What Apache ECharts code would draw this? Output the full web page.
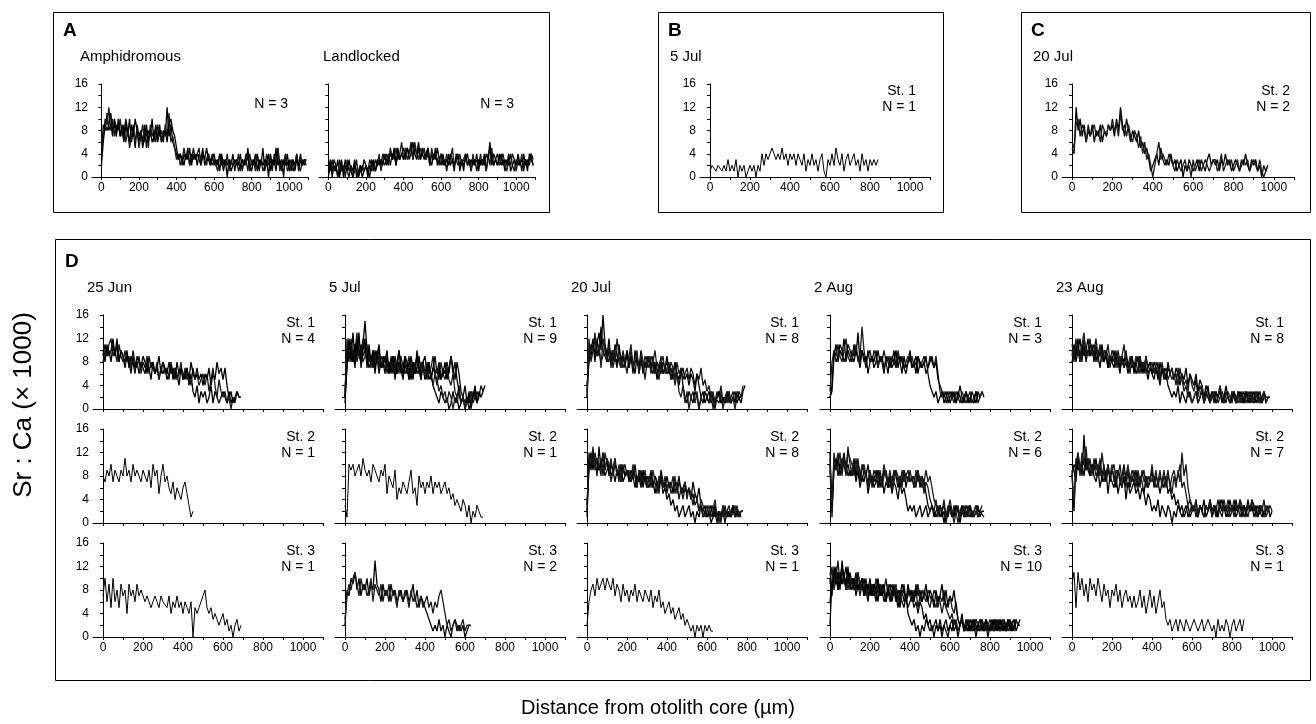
<!DOCTYPE html>
<html>
<head>
<meta charset="utf-8">
<script src="https://cdn.jsdelivr.net/npm/echarts@6/dist/echarts.min.js"></script>
<style>
  html, body { margin: 0; padding: 0; background: #fff; }
  #main { width: 1316px; height: 724px; }
</style>
</head>
<body>
<div id="main"></div>
<script>
// Sr:Ca profiles, values read every 10 um from the otolith core
var STEP = 10;

// A - Amphidromous (N = 3)
var amph1 = [3,9,8,11,8,9,7,10,8,9,7, 8,6,9,7,10,6,8,5,9,7, 8,6,9,5,8,7,10,6,8,7, 9,6,8,7,12,7,9,6,5,4,
  3,4,2,4,3,5,2,4,3,4, 2,4,3,5,2,3,4,2,3,4, 2,3,1,4,2,3,0,3,2,4, 1,3,2,4,1,3,2,5,1,3, 2,4,1,3,2,5,1,3,0,4,
  2,3,1,5,2,3,0,4,2,3, 1,3,2,4,1,3,2,3,2];
var amph2 = [5,7,10,9,12,8,10,7,9,8,10, 7,9,6,8,5,7,9,6,8,5, 7,9,6,8,5,9,7,8,6,9, 7,8,6,9,7,11,6,7,5,3,
  4,2,3,5,3,4,2,3,5,3, 3,5,2,4,3,2,4,3,2,3, 3,1,4,2,3,2,4,1,3,2, 3,2,4,1,3,2,3,1,4,2, 3,1,4,2,3,1,2,4,2,3,
  1,4,2,5,1,3,2,4,1,2, 3,1,2,4,2,1,3,2,3];
var amph3 = [2,6,9,8,9,11,8,9,7,10,7, 9,7,10,8,6,9,7,10,8,6, 8,5,7,9,6,8,6,7,9,6, 8,6,7,8,6,9,10,8,7,5,
  3,4,3,2,4,3,5,2,4,3, 4,3,2,4,3,5,3,2,4,2, 3,2,4,3,1,3,2,3,1,2, 2,3,1,2,3,2,4,3,2,1, 3,2,4,1,3,2,3,2,4,1,
  3,2,5,2,3,1,3,2,4,1, 2,3,1,3,2,4,2,3,3];

// A - Landlocked (N = 3)
var land1 = [1,3,0,2,1,3,0,2,1,3,1, 0,2,1,3,0,1,2,0,1,2, 0,2,1,3,1,2,3,2,4,3, 4,2,5,3,4,2,5,3,4,5,
  3,5,4,6,3,5,4,6,3,5, 4,3,5,2,4,3,5,2,3,4, 2,3,1,4,2,3,1,4,3,2, 3,1,4,2,3,1,3,2,4,1, 3,2,4,1,3,6,2,4,3,2,
  4,2,3,1,3,2,4,2,1,3, 2,3,1,4,2,3,2,4,3];
var land2 = [2,1,3,1,2,0,3,1,2,0,3, 1,2,0,1,3,0,1,2,1,2, 1,3,2,1,3,2,4,1,3,2, 3,4,2,4,3,5,3,4,6,3,
  5,3,4,5,3,6,4,3,5,4, 5,3,4,2,5,3,4,3,2,4, 3,2,4,2,3,5,2,3,2,4, 2,3,4,2,3,1,4,2,3,2, 4,2,3,1,4,2,5,2,3,4,
  2,3,4,2,1,3,2,4,3,1, 3,2,4,1,3,2,3,4,2];
var land3 = [0,2,1,3,2,0,1,3,0,2,1, 3,1,0,2,1,0,2,1,3,2, 2,0,3,2,1,3,2,3,2,4, 2,3,4,3,5,2,4,3,4,3,
  4,5,3,4,6,4,3,5,3,4, 3,4,5,3,2,4,3,5,3,2, 4,2,3,2,4,3,2,3,4,1, 3,2,3,4,2,3,2,3,1,3, 2,3,2,4,3,5,3,2,3,2,
  3,4,2,3,2,4,1,2,3,2, 4,2,3,2,3,1,4,3,2];

// B - 5 Jul, St. 1
var bJul5 = [1,2,2,1,2,2,1,2,1,3,1, 2,1,3,0,2,1,2,0,1,2, 1,2,0,2,1,4,2,4,3,4, 5,4,3,4,3,5,3,4,2,4,
  3,4,2,4,3,2,4,1,3,2, 4,2,3,1,3,4,1,0,3,2, 4,2,5,3,2,4,1,3,4,2, 3,4,2,3,1,4,2,3,1,3, 2,3,2,3];

// C - 20 Jul, St. 2
var cJul20a = [5,4,12,8,10,7,9,6,8,7,9, 6,8,7,9,6,8,7,9,8,9, 7,10,8,12,9,7,10,8,6,8, 7,6,8,5,6,4,5,3,1,2,
  3,4,2,5,3,2,3,2,4,2, 3,1,2,3,0,2,1,3,2,1, 2,3,1,3,2,1,3,4,2,3, 2,3,1,3,2,4,2,3,1,2, 3,2,1,3,2,4,2,1,3,2,
  3,1,2,0,2,1,2];
var cJul20b = [6,5,9,10,7,9,8,6,9,7,8, 9,7,8,6,9,8,7,9,8,10, 8,9,7,11,8,9,7,9,7,6, 8,7,5,7,4,6,3,4,2,0,
  2,4,6,3,4,3,2,4,3,2, 1,3,2,1,2,3,1,2,0,3, 1,2,3,1,2,3,2,1,2,3, 3,1,2,4,1,2,3,2,3,1, 2,3,1,2,3,2,3,1,2,3,
  2,1,3,1,0,1,2];

// D - 25 Jun
var jun25s1a = [9,11,9,10,8,11,9,12,8,10,9, 7,9,8,6,9,7,8,6,8,7, 6,8,7,5,8,6,7,5,7,6, 7,5,6,8,5,7,6,4,7,6,
  5,7,4,6,3,2,4,1,3,2, 3,1,2,4,1,3,2,1,2,3, 2,1,3,1,2];
var jun25s1b = [8,10,9,11,12,9,10,8,11,9,8, 10,8,9,7,10,8,7,9,6,8, 7,9,6,8,7,6,8,5,7,8, 6,7,5,8,6,7,5,6,8,5,
  7,5,6,4,7,5,6,4,5,6, 4,6,3,5,7,4,2,5,3,2, 3,1,2,0,2,1,3,2,2];
var jun25s1c = [10,8,11,9,10,12,9,11,8,10,9, 8,10,7,9,8,6,9,8,7,9, 8,6,9,7,8,6,7,9,6,8, 7,6,8,6,7,5,8,6,7,5,
  6,7,5,8,6,5,7,5,6,4, 6,5,7,4,6,5,8,6,7,5, 7,4,2,3,1,2,3,2];
var jun25s2 = [8,7,9,8,10,7,9,8,7,9,8, 11,8,9,7,10,8,9,8,7,9, 8,7,9,6,10,8,9,5,8,10, 7,8,6,5,7,4,6,5,4,6,
  7,5,3,1,2];
var jun25s3 = [7,10,6,9,5,10,6,8,5,9,7, 8,4,9,7,8,6,9,7,8,7, 6,7,6,5,6,7,6,5,7,6, 6,5,7,4,6,5,7,5,6,4,
  6,5,4,6,0,5,4,5,6,7, 8,5,4,5,3,4,3,2,3,4, 2,3,1,2,0,2,3,1,2];

// D - 5 Jul
var jul5s1a = [2,9,11,8,10,7,12,9,8,11,15, 10,8,9,7,10,8,9,7,8,6, 9,7,8,6,9,7,8,6,7,9, 6,8,7,5,8,6,7,5,8,6,
  7,5,6,4,3,2,1,3,2,1, 2,0,1,3,1,2,0,1,2,1, 2,1,3,2,3];
var jul5s1b = [3,10,8,12,9,11,8,10,9,12,10, 8,10,7,9,8,10,7,9,8,7, 8,6,9,7,8,6,10,7,8,6, 7,9,6,8,7,9,6,7,8,6,
  8,6,7,9,6,7,5,8,6,5, 7,5,4,6,3,2,4,1,2,0, 2,1,3,1,2,3,2,4,3];
var jul5s1c = [1,8,10,9,13,8,10,9,11,9,10, 9,7,8,10,7,9,6,8,7,9, 7,8,6,9,7,6,8,7,5,8, 6,7,5,8,6,7,9,6,7,5,
  6,8,5,7,6,4,7,5,6,8, 5,7,9,6,8,5,3,1,2,1, 2,0,1,2,3,2];
var jul5s1d = [2,12,9,11,8,10,13,9,10,8,9, 11,8,9,7,9,8,10,7,8,9, 6,8,7,9,7,8,6,9,7,8, 7,5,8,6,7,9,6,8,7,6,
  5,7,6,4,6,5,3,4,2,3, 1,3,2,0,2,1,3,1,2,0, 1,2,1,3,2,1,2];
var jul5s1e = [2,7,12,10,8,11,9,13,7,10,12, 7,11,8,10,6,9,11,7,9,8, 10,6,8,9,5,8,10,7,6,9, 8,5,9,7,6,10,7,5,8,9,
  6,8,5,7,9,6,8,5,7,6, 8,6,9,7,5,8,6,3,2,4, 1,3,0,2,4,1,3,2,3,4];
var jul5s2 = [3,1,10,9,10,8,9,10,8,11,9, 8,9,7,10,9,8,7,9,8,10, 5,8,7,6,9,4,6,5,7,6, 5,7,9,5,6,3,8,6,7,5,
  7,6,8,5,7,6,7,5,6,7, 5,6,4,5,3,4,3,2,4,3, 1,3,0,2,1,3,2,1,1];
var jul5s3a = [2,8,7,10,9,11,8,10,7,9,8, 10,7,9,8,13,9,8,6,9,7, 8,6,9,7,8,6,7,8,6,7, 8,6,7,9,6,8,5,7,6,5,
  5,3,2,1,2,1,3,1,2,0, 2,1,0,2,3,1,2,1,2,0, 1,2,2];
var jul5s3b = [3,7,9,8,10,11,9,7,10,8,9, 7,8,10,6,9,8,7,9,6,8, 7,9,6,8,7,5,8,7,6,8, 7,5,8,6,7,5,6,7,5,6,
  7,5,6,4,6,5,7,8,6,4, 2,3,1,2,3,2,1,2,3,1, 2,2];

// D - 20 Jul
var jul20s1a = [3,10,9,11,8,12,9,14,10,9,8, 10,9,8,11,9,8,7,9,8,10, 7,9,8,6,9,7,10,8,7,9, 8,7,9,6,8,7,6,8,7,6,
  7,5,6,8,6,5,7,4,2,1, 3,2,1,3,2,0,2,1,3,2, 1,3,2,1,2,3,1,2,1,3, 2,1,2,3,1,2,1,3,4];
var jul20s1b = [2,9,11,10,12,9,10,8,9,11,9, 8,10,7,9,8,10,9,7,8,9, 8,10,7,8,9,6,8,7,9,8, 7,9,8,6,8,7,9,6,7,8,
  6,8,7,5,8,6,7,5,6,7, 5,7,6,4,6,5,7,4,5,3, 4,2,3,1,3,2,4,1,2,3, 1,2,3,1,2,3,2,4];
var jul20s1c = [4,8,10,12,9,11,13,10,16,11,9, 12,8,10,9,7,11,8,9,7,10, 7,9,6,10,8,7,9,6,8,7, 9,7,6,8,5,7,8,6,7,9,
  6,7,5,8,6,4,6,7,5,6, 4,6,5,3,6,4,2,3,1,2, 3,1,2,0,2,3,1,2,1,2, 3,1,2,1,3,2,2];
var jul20s1d = [2,12,8,10,13,9,11,7,12,10,8, 11,7,10,8,12,9,7,10,8,6, 9,11,7,8,10,6,9,8,5,8, 9,6,8,10,7,5,8,9,6,7,
  8,5,7,4,6,3,2,4,1,3, 0,2,3,1,3,0,2,1,3,2, 1,3,0,2,2,1,3,0,2,1, 3,1,2,0,2,3];
var jul20s2a = [2,10,12,9,11,8,13,9,10,8,9, 10,8,9,7,9,8,10,7,8,9, 7,9,8,6,8,7,9,6,8,7, 6,8,7,5,7,6,8,5,6,4,
  5,3,4,2,3,1,2,3,1,2, 3,1,2,0,2,1,3,1,2,1, 2,0,1,3,1,2,1,2,0,2, 1,2,3,1,2,1,2,2];
var jul20s2b = [3,9,11,10,12,10,9,11,8,12,10, 9,11,8,10,9,7,10,9,8,9, 8,7,9,8,6,9,7,8,7,6, 8,7,6,8,7,5,8,6,7,6,
  7,5,6,8,5,7,6,4,6,5, 6,4,5,3,4,2,3,1,2,3, 1,2,3,1,2,0,2,1,3,1, 2,1,2,3,1,2,1];
var jul20s2c = [1,11,9,12,10,11,9,10,12,9,11, 8,10,9,11,8,9,7,10,8,9, 9,7,8,10,7,8,6,9,7,8, 7,9,6,8,7,6,9,7,6,8,
  6,7,5,7,6,8,5,6,7,5, 6,4,7,5,4,6,3,2,3,1, 2,3,1,2,0,2,1,3,2,1, 2,1,3,1,2,2];
var jul20s2d = [3,12,10,13,9,11,10,8,12,9,11, 10,7,9,11,8,10,7,9,10,8, 9,7,10,8,6,9,8,7,9,6, 8,6,9,7,5,8,7,6,8,5,
  7,6,8,5,7,4,6,5,7,4, 6,5,3,5,4,2,4,3,1,2, 3,1,2,4,1,2,0,3,1,2, 3,1,2,1,3,1,2,2];
var jul20s3 = [2,6,8,9,7,10,8,9,10,8,10, 9,8,10,7,9,8,6,9,7,8, 6,8,7,9,6,8,7,6,8,7, 6,8,5,7,6,8,5,6,4,5,
  6,4,5,3,4,5,3,4,2,3, 2,1,2,0,2,1,2,0,2,1, 2,1,1];

// D - 2 Aug
var aug2s1a = [2,3,9,11,8,10,9,12,8,10,9, 8,11,9,13,8,10,9,7,10,8, 9,8,10,7,9,8,6,9,8,7, 8,10,7,9,8,6,9,7,8,10,
  7,8,9,6,8,7,8,9,6,4, 3,2,3,1,2,3,1,2,3,1, 2,3,1,2,4,2,1,3,2,1, 3,2,1,3,2,3,2];
var aug2s1b = [3,8,10,9,11,9,8,10,12,9,8, 10,9,11,8,9,14,10,8,9,10, 8,10,9,7,9,8,10,8,9,7, 9,8,7,10,8,9,7,8,9,8,
  9,7,8,9,7,8,9,8,7,9, 8,7,9,6,3,2,3,1,2,3, 2,1,3,2,1,3,2,1,2,3, 1,2,3,1,2,3];
var aug2s1c = [2,4,10,8,9,11,10,8,9,11,10, 9,8,10,9,7,10,8,9,6,8, 9,7,8,10,8,9,7,8,6,9, 7,8,10,7,9,8,7,6,8,9,
  7,8,6,9,8,7,8,6,7,8, 9,7,8,5,4,3,2,3,1,2, 3,2,1,3,2,1,2,3,1,2, 2,1,3,2];
var aug2s2a = [12,1,10,9,11,8,10,12,9,10,8, 9,11,8,10,9,7,9,8,10,7, 8,7,9,6,8,7,9,8,6,8, 7,9,8,6,8,7,9,6,8,7,
  8,6,7,9,6,8,7,5,3,2, 3,1,2,3,1,2,0,2,1,3, 2,1,3,2,0,2,1,3,2,1, 2,1,2,3,1,2,2];
var aug2s2b = [9,2,11,10,12,9,11,10,8,12,11, 10,8,11,9,7,10,9,8,7,9, 6,8,7,9,8,6,8,9,7,6, 8,7,9,8,6,9,7,8,9,7,
  8,6,9,7,8,6,7,9,7,8, 6,4,3,2,3,2,4,1,3,2, 1,3,2,0,2,3,1,2,1,3, 2,1,2,1,2,3];
var aug2s2c = [10,3,9,11,8,10,9,11,10,8,9, 8,10,7,9,6,8,7,9,5,7, 8,6,7,9,6,8,5,7,6,8, 5,7,6,4,7,5,6,4,2,3,
  2,3,1,2,3,1,2,3,1,2, 3,2,1,2,3,1,2,0,2,3, 1,2,3,2,1,3,2,1,2,3, 1,2,3,2,2];
var aug2s2d = [11,2,12,9,10,12,8,11,9,13,10, 8,10,9,11,7,9,10,8,6,9, 7,9,8,6,9,7,10,8,7,9, 6,8,9,7,8,6,9,8,7,9,
  7,8,6,9,7,8,5,7,6,4, 3,2,4,1,3,2,3,1,2,4, 2,0,2,3,1,2,3,1,3,2, 1,2,3,1,2,2,1];
var aug2s3a = [2,10,9,12,8,11,9,10,12,9,11, 9,10,8,11,9,8,10,8,9,7, 9,7,8,6,9,7,8,6,8,7, 6,8,7,5,7,6,5,7,4,3,
  2,3,1,2,0,2,1,3,2,1, 2,0,2,1,3,1,2,1,0,2, 1,3,2,1,2,3,1,2,1,3, 2,1,3,2,1,2,1,3,2,1, 2,3,1,2,3,1,2,1,3,2,
  1,2,3,2,3];
var aug2s3b = [11,8,10,9,11,10,12,9,10,8,10, 9,8,10,9,7,9,8,10,7,8, 8,9,7,8,9,7,8,10,7,8, 9,7,8,6,8,7,9,6,8,7,
  6,8,7,9,6,8,7,6,8,7, 6,8,7,5,7,6,8,5,6,7, 5,4,6,3,2,3,1,2,3,1, 2,3,1,2,3,2,1,3,2,1, 2,1,3,2,1,3,2,1,2,3,
  2,1,3,2];
var aug2s3c = [6,9,11,10,8,10,9,11,8,10,9, 8,10,7,9,8,9,7,8,6,9, 7,8,6,9,7,8,6,7,8,6, 7,8,6,7,5,8,6,7,5,6,
  7,5,6,4,6,5,3,4,2,3, 1,2,3,1,2,0,2,3,1,2, 3,1,2,0,2,3,1,2,1,2, 1,3,2,1,2,3,1,2,0,2, 3,1,2,3,1,2,3,1,2,3,
  1,2,2];
var aug2s3d = [9,12,8,10,13,9,11,10,8,11,9, 10,8,9,11,8,10,9,7,9,8, 9,7,10,8,7,9,8,6,9,7, 8,7,9,6,8,7,8,6,7,8,
  7,6,8,5,7,6,8,7,6,5, 7,6,5,7,6,4,6,5,4,3, 4,2,3,1,2,3,2,1,3,2, 1,2,3,2,1,3,2,1,2,3, 2,1,3,2,1,2,3,2,1,2,
  2,3];
var aug2s3e = [10,7,12,9,11,8,13,10,9,12,8, 10,9,11,8,9,10,7,9,8,10, 7,9,8,10,7,8,9,6,8,9, 7,9,6,8,7,9,8,6,9,7,
  8,6,9,7,8,6,7,9,6,8, 7,5,8,6,7,9,6,8,5,7, 6,8,5,3,2,4,1,3,2,1, 3,2,0,2,3,1,2,3,1,2, 1,3,2,1,3,2,1,2,3,1,
  2,3,1,2,2];

// D - 23 Aug
var aug23s1a = [9,11,8,10,12,9,11,8,10,9,11, 8,10,9,7,10,8,9,7,9,8, 7,9,8,6,9,7,8,6,8,7, 8,6,7,9,6,8,7,5,7,6,
  5,7,6,4,7,5,6,4,3,2, 3,2,4,1,3,2,1,3,2,1, 2,3,1,2,3,1,2,4,1,2, 3,1,2,3,1,2,4,2,1,3, 2,1,3,2,1,2,3,1,2,3,
  1,2,3,1,2,3,1,2,2];
var aug23s1b = [10,8,11,9,10,8,12,10,9,11,10, 9,11,8,10,9,8,10,9,7,9, 8,10,7,9,8,7,9,8,6,9, 7,8,6,9,7,8,6,7,8,6,
  7,6,8,5,7,6,5,7,6,5, 6,4,7,5,6,4,5,3,6,4, 3,5,2,4,3,1,3,2,1,3, 2,3,1,2,3,2,1,3,2,1, 3,2,1,2,3,1,2,3,2,1,
  2,3,1,2,1,3,2,2];
var aug23s1c = [8,10,9,12,8,11,9,10,12,9,10, 11,8,10,9,11,8,10,7,9,8, 10,8,9,7,9,8,10,7,8,9, 6,8,9,7,8,6,9,7,8,6,
  8,7,5,8,6,7,5,8,6,7, 5,7,6,4,6,5,7,4,6,5, 4,6,3,5,4,2,4,3,2,3, 1,3,2,4,2,1,3,2,1,2, 3,1,2,3,2,1,3,2,1,2,
  3,1,2,3,1,2];
var aug23s1d = [11,9,12,10,8,11,13,9,10,12,9, 10,12,9,11,8,10,9,11,8,10, 9,7,10,8,9,11,8,7,9,8, 7,9,8,6,8,7,9,6,7,8,
  6,8,7,5,8,6,7,5,6,7, 5,6,4,7,5,3,4,2,3,1, 2,3,1,2,4,1,3,2,1,2, 3,1,2,4,2,1,3,2,1,3, 2,1,3,1,2,3,1,2,3,2,
  1,3,2,1,2,3,1,2,2];
var aug23s2a = [9,2,11,9,10,8,15,9,11,8,10, 9,11,8,10,7,9,8,10,7,9, 8,6,9,7,8,10,7,9,6,8, 7,9,6,8,7,5,8,6,7,9,
  6,8,7,5,7,6,8,5,6,4, 5,3,4,2,3,1,2,3,1,2, 3,2,1,3,2,4,1,2,3,1, 2,3,1,4,2,3,1,2,4,2, 3,1,2,4,2,3,1,3,2,4,
  2,3,1,2,3,1,2,3,1,2];
var aug23s2b = [8,10,9,11,8,12,10,9,11,10,9, 10,8,9,11,8,10,7,9,8,10, 7,9,8,10,7,8,6,9,8,7, 9,7,8,6,9,7,8,6,8,7,
  8,6,7,9,6,8,7,9,6,8, 9,7,8,10,6,7,5,3,4,2, 3,1,2,3,2,1,3,2,4,2, 3,2,1,3,2,4,2,3,1,2, 4,2,3,1,2,3,2,1,3,2,
  3,1,2,3,2,1,3,2,2];
var aug23s2c = [10,9,7,12,9,10,8,11,9,8,10, 8,7,9,6,8,7,9,5,8,7, 6,8,5,7,6,8,4,7,5,6, 7,5,6,4,6,5,3,5,4,2,
  3,2,4,1,3,2,1,3,2,0, 2,1,3,2,1,2,3,1,2,3, 2,4,1,3,2,1,3,2,4,2, 3,1,2,3,4,2,3,1,2,3, 2,4,2,3,1,3,2,4,2,3,
  1,2,3,2,1,2,2];
var aug23s2d = [8,3,10,12,9,11,10,13,9,11,8, 11,9,10,8,12,9,7,10,8,9, 10,7,9,8,6,9,8,10,7,9, 8,6,9,7,8,9,6,8,7,10,
  7,9,6,8,7,9,6,8,7,5, 8,6,9,7,12,8,10,6,4,3, 2,4,1,3,2,1,3,2,4,1, 3,2,4,2,1,3,2,4,2,3, 1,3,2,4,3,1,2,3,2,4,
  3,2,1,3,2,4,1,2,3,2];
var aug23s3 = [9,11,5,11,8,10,7,9,6,10,8, 9,7,10,8,6,9,7,8,5,8, 7,9,6,8,5,7,8,6,7,5, 7,5,6,8,5,7,4,6,8,5,
  7,4,6,8,5,6,3,2,3,1, 2,3,1,3,2,1,3,2,1,2, 3,2,1,2,3,1,2,3,2,1, 2,0,3,1,2,1,3,2,0,2, 3,1,2,3,1,3];

// tick positions
var xTickVals = [0,100,200,300,400,500,600,700,800,900,1000,1100];
var xLabelVals = [0,200,400,600,800,1000];
var yTickVals = [0,2,4,6,8,10,12,14,16];
var yLabelVals = [0,4,8,12,16];

// panel text
var dDates = ['25 Jun','5 Jul','20 Jul','2 Aug','23 Aug'];
var dStations = ['St. 1','St. 2','St. 3'];
var dCounts = [
  ['N = 4','N = 9','N = 8','N = 3','N = 8'],
  ['N = 1','N = 1','N = 8','N = 6','N = 7'],
  ['N = 1','N = 2','N = 1','N = 10','N = 1']
];
var dLines = [
  [[jun25s1a,jun25s1b,jun25s1c],[jul5s1a,jul5s1b,jul5s1c,jul5s1d,jul5s1e],[jul20s1a,jul20s1b,jul20s1c,jul20s1d],[aug2s1a,aug2s1b,aug2s1c],[aug23s1a,aug23s1b,aug23s1c,aug23s1d]],
  [[jun25s2],[jul5s2],[jul20s2a,jul20s2b,jul20s2c,jul20s2d],[aug2s2a,aug2s2b,aug2s2c,aug2s2d],[aug23s2a,aug23s2b,aug23s2c,aug23s2d]],
  [[jun25s3],[jul5s3a,jul5s3b],[jul20s3],[aug2s3a,aug2s3b,aug2s3c,aug2s3d,aug2s3e],[aug23s3]]
];

var FONT = '"Liberation Sans", Arial, sans-serif';
var dCols = [93, 335, 577, 820, 1062];
var dRows = [315, 429, 543];

var panels = [
  {l: 92, t: 84, w: 216, h: 93, lines: [amph1, amph2, amph3], yl: true, xl: true},
  {l: 319, t: 84, w: 216, h: 93, lines: [land1, land2, land3], yl: false, xl: true},
  {l: 700, t: 84, w: 230, h: 93, lines: [bJul5], yl: true, xl: true},
  {l: 1062, t: 84, w: 232, h: 93, lines: [cJul20a, cJul20b], yl: true, xl: true}
];
dRows.forEach(function (t, r) {
  dCols.forEach(function (l, c) {
    panels.push({l: l, t: t, w: 230, h: 94, lines: dLines[r][c], yl: c === 0, xl: r === 2});
  });
});

function toPts(arr) {
  return arr.map(function (v, i) { return [i * STEP, v]; });
}
function plain(v) { return String(v); }

var grids = [], xAxes = [], yAxes = [], series = [];
panels.forEach(function (p, i) {
  grids.push({left: p.l, top: p.t, width: p.w, height: p.h});
  xAxes.push({
    type: 'value', gridIndex: i, min: -50, max: 1100,
    axisLine: {show: true, onZero: false, lineStyle: {color: '#000', width: 1}},
    axisTick: {show: true, length: 3, customValues: xTickVals, lineStyle: {color: '#000'}},
    axisLabel: {show: p.xl, customValues: xLabelVals, formatter: plain, color: '#000', fontSize: 12, fontFamily: FONT, margin: 5},
    splitLine: {show: false}
  });
  yAxes.push({
    type: 'value', gridIndex: i, min: 0, max: 16,
    axisLine: {show: true, lineStyle: {color: '#000', width: 1}},
    axisTick: {show: true, length: 3, customValues: yTickVals, lineStyle: {color: '#000'}},
    axisLabel: {show: p.yl, customValues: yLabelVals, formatter: plain, color: '#000', fontSize: 12, fontFamily: FONT, margin: 4},
    splitLine: {show: false}
  });
  p.lines.forEach(function (arr, k) {
    series.push({
      type: 'line', xAxisIndex: i, yAxisIndex: i, data: toPts(arr),
      showSymbol: false, silent: true, animation: false,
      lineStyle: {color: k % 2 ? '#1a1a1a' : '#000', width: p.lines.length > 1 ? 1.3 : 1}
    });
  });
});

function txt(s, x, y, size, opts) {
  opts = opts || {};
  return {
    type: 'text', x: x, y: y, rotation: opts.rot || 0, silent: true,
    style: {
      text: s, fill: '#000', font: (opts.bold ? 'bold ' : '') + size + 'px ' + FONT,
      align: opts.align || 'left', textAlign: opts.align || 'left',
      verticalAlign: 'middle', textVerticalAlign: 'middle'
    }
  };
}
function box(x, y, w, h) {
  return {type: 'rect', silent: true, shape: {x: x + 0.5, y: y + 0.5, width: w, height: h},
    style: {fill: 'none', stroke: '#000', lineWidth: 1}};
}

var graphics = [
  box(53, 12, 496, 200), box(658, 12, 285, 200), box(1021, 12, 289, 200), box(55, 239, 1255, 441),
  txt('A', 63, 31, 19, {bold: true}), txt('B', 668, 31, 19, {bold: true}),
  txt('C', 1031, 31, 19, {bold: true}), txt('D', 65, 262, 19, {bold: true}),
  txt('Amphidromous', 80, 57, 15), txt('Landlocked', 323, 57, 15),
  txt('N = 3', 288, 104, 14, {align: 'right'}), txt('N = 3', 514, 104, 14, {align: 'right'}),
  txt('5 Jul', 670, 57, 15), txt('St. 1', 916, 91, 14, {align: 'right'}), txt('N = 1', 916, 107, 14, {align: 'right'}),
  txt('20 Jul', 1033, 57, 15), txt('St. 2', 1290, 91, 14, {align: 'right'}), txt('N = 2', 1290, 107, 14, {align: 'right'}),
  txt('Sr : Ca (\u00d7 1000)', 24, 405, 26, {rot: Math.PI / 2, align: 'center'}),
  txt('Distance from otolith core (\u00b5m)', 658, 708, 20, {align: 'center'})
];
dCols.forEach(function (l, c) {
  graphics.push(txt(dDates[c], l - 6, 288, 15));
  dRows.forEach(function (t, r) {
    graphics.push(txt(dStations[r], l + 222, t + 8, 14, {align: 'right'}));
    graphics.push(txt(dCounts[r][c], l + 222, t + 24, 14, {align: 'right'}));
  });
});

var myChart = echarts.init(document.getElementById('main'), null, {renderer: 'canvas'});
myChart.setOption({
  backgroundColor: '#fff',
  animation: false,
  grid: grids,
  xAxis: xAxes,
  yAxis: yAxes,
  series: series,
  graphic: graphics
});
</script>
</body>
</html>
